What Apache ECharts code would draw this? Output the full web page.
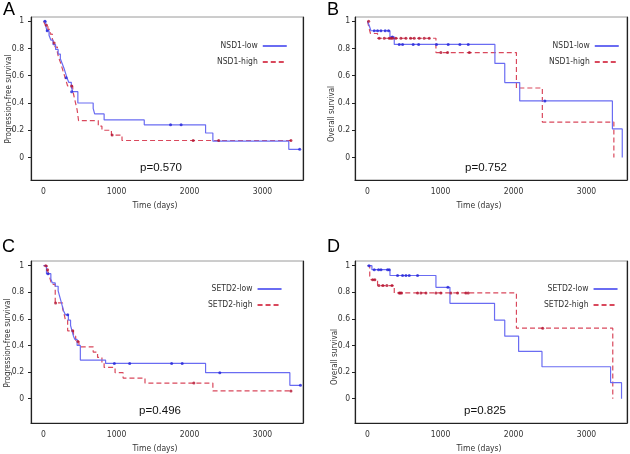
<!DOCTYPE html>
<html><head><meta charset="utf-8">
<script src="https://cdn.jsdelivr.net/npm/echarts@6/dist/echarts.min.js"></script>
<style>html,body{margin:0;padding:0;background:#fff}#c{width:630px;height:454px}</style>
</head><body><div id="c"></div>
<script>
// ---- data ----
const xTicks = [0, 1000, 2000, 3000];
const yTicks = [0, 0.2, 0.4, 0.6, 0.8, 1];
const panelLetters = ['A', 'B', 'C', 'D'];
const yTitles = ['Progression-free survival', 'Overall survival', 'Progression-free survival', 'Overall survival'];
const xTitle = 'Time (days)';
const pValues = ['p=0.570', 'p=0.752', 'p=0.496', 'p=0.825'];
const legendNames = [['NSD1-low', 'NSD1-high'], ['NSD1-low', 'NSD1-high'], ['SETD2-low', 'SETD2-high'], ['SETD2-low', 'SETD2-high']];

// Panel A: NSD1 progression-free survival
const aLow = [[0,1],[30,0.966],[45,0.931],[75,0.897],[100,0.862],[130,0.828],[165,0.793],[200,0.759],[230,0.724],[255,0.69],[280,0.655],[300,0.621],[320,0.586],[345,0.552],[380,0.517],[400,0.483],[470,0.40],[680,0.36],[700,0.32],[830,0.276],[1380,0.24],[2220,0.18],[2320,0.12],[3360,0.06],[3510,0.06]];
const aLowCens = [[20,1],[50,0.931],[310,0.586],[385,0.483],[1740,0.24],[1885,0.24],[3510,0.06]];
const aHigh = [[0,1],[25,0.97],[60,0.94],[90,0.905],[120,0.87],[140,0.84],[160,0.81],[190,0.77],[205,0.735],[230,0.70],[250,0.665],[270,0.63],[290,0.595],[310,0.56],[330,0.525],[400,0.49],[415,0.455],[430,0.42],[445,0.385],[460,0.35],[470,0.31],[480,0.27],[750,0.23],[800,0.20],[930,0.165],[1075,0.125],[3390,0.125]];
const aHighCens = [[40,0.97],[145,0.84],[385,0.525],[940,0.165],[2050,0.125],[2400,0.125],[3390,0.125]];

// Panel B: NSD1 overall survival
const bLow = [[0,1],[25,0.965],[46,0.93],[307,0.885],[366,0.83],[1745,0.69],[1880,0.55],[2085,0.415],[3355,0.21],[3490,0]];
const bLowCens = [[92,0.93],[137,0.93],[183,0.93],[242,0.93],[288,0.93],[340,0.885],[434,0.83],[480,0.83],[625,0.83],[700,0.83],[945,0.83],[1105,0.83],[1265,0.83],[1380,0.83],[2430,0.415]];
const bHigh = [[0,1],[20,0.95],[40,0.91],[137,0.875],[937,0.77],[2040,0.51],[2395,0.26],[3375,0]];
const bHighCens = [[15,1],[160,0.875],[229,0.875],[297,0.875],[320,0.875],[343,0.875],[388,0.875],[457,0.875],[526,0.875],[590,0.875],[640,0.875],[708,0.875],[776,0.875],[845,0.875],[1005,0.77],[1096,0.77],[1395,0.77]];

// Panel C: SETD2 progression-free survival
const cLow = [[0,1],[40,0.94],[100,0.90],[120,0.87],[160,0.845],[200,0.81],[215,0.78],[230,0.75],[245,0.72],[260,0.69],[275,0.66],[300,0.63],[340,0.59],[370,0.55],[390,0.51],[410,0.47],[430,0.445],[460,0.40],[504,0.29],[850,0.265],[2220,0.195],[3375,0.10],[3520,0.10]];
const cLowCens = [[60,0.94],[331,0.63],[970,0.265],[1180,0.265],[1755,0.265],[1900,0.265],[2415,0.195],[3520,0.10]];
const cHigh = [[0,1],[50,0.97],[70,0.94],[90,0.90],[110,0.86],[160,0.72],[260,0.68],[280,0.64],[300,0.59],[330,0.51],[410,0.47],[440,0.43],[485,0.39],[680,0.35],[740,0.31],[800,0.27],[830,0.235],[980,0.195],[1090,0.155],[1390,0.117],[2320,0.058],[3390,0.058]];
const cHighCens = [[30,1],[55,0.97],[165,0.72],[400,0.51],[470,0.43],[2060,0.117],[3390,0.058]];

// Panel D: SETD2 overall survival
const dLow = [[0,1],[60,0.97],[307,0.926],[937,0.837],[1129,0.717],[1740,0.59],[1880,0.47],[2070,0.355],[2390,0.24],[3330,0.12],[3480,0]];
const dLowCens = [[20,1],[92,0.97],[151,0.97],[184,0.97],[274,0.97],[297,0.97],[411,0.926],[480,0.926],[526,0.926],[571,0.926],[685,0.926],[1101,0.837]];
const dHigh = [[0,1],[30,0.92],[46,0.894],[137,0.85],[366,0.795],[2040,0.53],[3360,0]];
const dHighCens = [[70,0.894],[100,0.894],[155,0.85],[210,0.85],[265,0.85],[335,0.85],[434,0.795],[448,0.795],[466,0.795],[685,0.795],[731,0.795],[800,0.795],[937,0.795],[1005,0.795],[1142,0.795],[1233,0.795],[1347,0.795],[1379,0.795],[2400,0.53]];

const lowSeries = [aLow, bLow, cLow, dLow];
const lowCens = [aLowCens, bLowCens, cLowCens, dLowCens];
const highSeries = [aHigh, bHigh, cHigh, dHigh];
const highCens = [aHighCens, bHighCens, cHighCens, dHighCens];

// ---- layout / style ----
const grids = [
  {left:31, top:17, width:272, height:163},
  {left:355, top:17, width:272, height:163},
  {left:31, top:261, width:272, height:165},
  {left:355, top:261, width:272, height:165}
];
const yRanges = [[-0.165,1.031],[-0.165,1.031],[-0.183,1.035],[-0.183,1.035]];
const xRange = [-172, 3555];
const legendPos = [
  {left:217, top:41.5, w:33},
  {left:549, top:41.5, w:34},
  {left:208, top:284.5, w:38},
  {left:544, top:284.5, w:39}
];
const letterPos = [[3,1],[327,1],[2,238],[327,238]];
const yTitlePos = [[9,99],[332,114],[8,343],[335,357]];
const pPos = [[161,168],[486,168],[160,411],[485,411]];
const FONT = '"Liberation Sans Narrow", "DejaVu Sans Condensed", "Liberation Sans", Arial, sans-serif';
const BLUE = '#6a6cf2', BLUE_D = '#2424d8', RED = '#d9485c', RED_D = '#b3102e', AX = '#222';

const xAxes = [], yAxes = [], series = [], legends = [], graphics = [];
for (let i = 0; i < 4; i++) {
  xAxes.push({
    type:'value', gridIndex:i, min:xRange[0], max:xRange[1],
    axisLine:{show:true, onZero:false, lineStyle:{color:AX, width:1.2}},
    axisTick:{show:false}, splitLine:{show:false},
    axisLabel:{customValues:xTicks, fontSize:8.5, color:'#333', margin:7, fontFamily:FONT,
      formatter:v => String(Math.round(v))},
    name:xTitle, nameLocation:'middle', nameGap:21,
    nameTextStyle:{fontSize:8.5, color:'#333', fontFamily:FONT, padding:[0,24,0,0]}
  });
  yAxes.push({
    type:'value', gridIndex:i, min:yRanges[i][0], max:yRanges[i][1],
    axisLine:{show:true, onZero:false, lineStyle:{color:AX, width:1.2}},
    axisTick:{show:true, customValues:yTicks, length:3, lineStyle:{color:AX}},
    splitLine:{show:false},
    axisLabel:{customValues:yTicks, fontSize:8.5, color:'#333', margin:(i%2===0?7:5), fontFamily:FONT,
      formatter:v => String(+(+v).toFixed(1))}
  });
  yAxes.push({
    type:'value', gridIndex:i, position:'right', min:yRanges[i][0], max:yRanges[i][1],
    axisLine:{show:true, onZero:false, lineStyle:{color:AX, width:1.2}},
    axisTick:{show:false}, axisLabel:{show:false}, splitLine:{show:false}
  });
  series.push({
    type:'line', name:legendNames[i][0], xAxisIndex:i, yAxisIndex:2*i, data:lowSeries[i],
    step:'end', symbol:'none', showSymbol:false, lineStyle:{color:BLUE, width:1.2}, itemStyle:{color:BLUE}, z:3
  });
  series.push({
    type:'line', name:legendNames[i][1], xAxisIndex:i, yAxisIndex:2*i, data:highSeries[i],
    step:'end', symbol:'none', showSymbol:false, lineStyle:{color:RED, width:1.2, type:[5,3]}, itemStyle:{color:RED}, z:2
  });
  series.push({
    type:'scatter', name:'cens-low-'+i, xAxisIndex:i, yAxisIndex:2*i, data:lowCens[i],
    symbol:'circle', symbolSize:3, itemStyle:{color:BLUE_D}, z:4
  });
  series.push({
    type:'scatter', name:'cens-high-'+i, xAxisIndex:i, yAxisIndex:2*i, data:highCens[i],
    symbol:'circle', symbolSize:3, itemStyle:{color:RED_D}, z:4
  });
  legends.push({
    data:legendNames[i], orient:'vertical', left:legendPos[i].left, top:legendPos[i].top,
    align:'right', itemWidth:24, itemHeight:1, itemGap:7, padding:0, selectedMode:false,
    itemStyle:{opacity:0},
    textStyle:{fontSize:8.5, color:'#333', fontFamily:FONT, width:legendPos[i].w}
  });
  graphics.push({type:'text', left:letterPos[i][0], top:letterPos[i][1],
    style:{text:panelLetters[i], font:'18px "Liberation Sans", Arial, sans-serif', fill:'#000'}});
  graphics.push({type:'text', x:yTitlePos[i][0], y:yTitlePos[i][1], rotation:Math.PI/2,
    style:{text:yTitles[i], font:'8px '+FONT, fill:'#333', align:'center', verticalAlign:'middle'}});
  graphics.push({type:'text', x:pPos[i][0], y:pPos[i][1],
    style:{text:pValues[i], font:'11.5px "Liberation Sans", Arial, sans-serif', fill:'#111', align:'center', verticalAlign:'middle'}});
}

const chart = echarts.init(document.getElementById('c'), null, {renderer:'canvas'});
chart.setOption({
  animation:false,
  backgroundColor:'#fff',
  grid: grids.map(g => Object.assign({show:true, borderColor:'#9a9a9a', borderWidth:1, containLabel:false}, g)),
  xAxis:xAxes, yAxis:yAxes, series:series, legend:legends, graphic:graphics
});
</script></body></html>
